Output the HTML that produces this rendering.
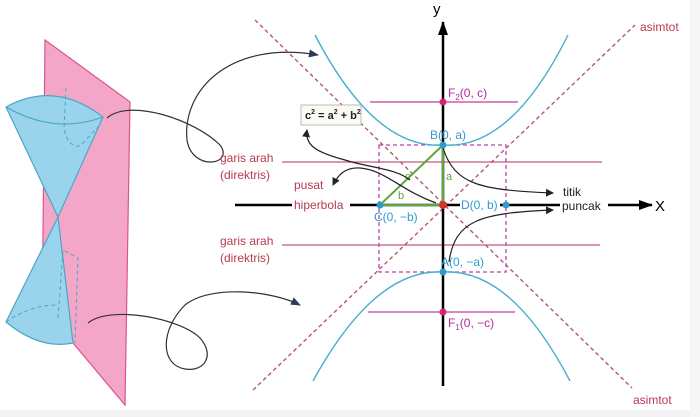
<!DOCTYPE html>
<html><head><meta charset="utf-8"><style>
html,body{margin:0;padding:0;background:#fff;}
svg{display:block;font-family:"Liberation Sans",sans-serif;}
</style></head><body>
<svg width="700" height="417" viewBox="0 0 700 417" xmlns="http://www.w3.org/2000/svg">
<defs>
<marker id="ah" markerWidth="8" markerHeight="8" refX="7" refY="4" orient="auto" markerUnits="userSpaceOnUse"><path d="M0,0 L8,4 L0,8 Z" fill="#222"/></marker>
<marker id="ahn" markerWidth="10" markerHeight="8" refX="9" refY="4" orient="auto" markerUnits="userSpaceOnUse"><path d="M0,0 L10,4 L0,8 Z" fill="#2b3a5a"/></marker>
<marker id="ax" markerWidth="14" markerHeight="10" refX="13" refY="5" orient="auto" markerUnits="userSpaceOnUse"><path d="M0,0 L14,5 L0,10 Z" fill="#000"/></marker>
</defs>
<rect x="0" y="410" width="700" height="7" fill="#f3f3f3"/>
<rect x="690" y="0" width="10" height="417" fill="#f6f6f6"/>

<polygon points="45,40 130,102 125,405 73,343 42,330" fill="#f4a6c8" stroke="#d9558f" stroke-width="1.2"/>
<path d="M6,107 Q55,80 103,117 L58,217 Z" fill="#9ad4ec" stroke="#4aa6c8" stroke-width="1.2"/>
<path d="M6,107 Q55,135 103,117" fill="none" stroke="#4aa6c8" stroke-width="1.2"/>
<path d="M66,88 L64,128 Q68,148 80,146 L100,125" fill="none" stroke="#4aa6c8" stroke-width="1" stroke-dasharray="4,3"/>
<path d="M58,217 L6,322 Q40,350 73,343 Z" fill="#9ad4ec" stroke="#4aa6c8" stroke-width="1.2"/>
<path d="M6,322 Q30,305 58,305" fill="none" stroke="#4aa6c8" stroke-width="1" stroke-dasharray="4,3"/>
<path d="M58,318 L63,250 L78,258 L75,343" fill="none" stroke="#4aa6c8" stroke-width="1" stroke-dasharray="4,3"/>

<path d="M107,118 C130,98 195,120 220,145 C235,165 192,172 187,140 C182,90 230,40 318,55" fill="none" stroke="#333" stroke-width="1.2" marker-end="url(#ahn)"/>
<path d="M88,323 C110,305 180,318 200,338 C215,355 205,372 185,369 C160,365 160,330 185,305 C210,285 270,290 300,305" fill="none" stroke="#333" stroke-width="1.2" marker-end="url(#ahn)"/>

<line x1="282" y1="162" x2="602" y2="162" stroke="#c25a7a" stroke-width="1.3"/>
<line x1="282" y1="245" x2="600" y2="245" stroke="#c25a7a" stroke-width="1.3"/>
<line x1="370" y1="102" x2="518" y2="102" stroke="#c23c9a" stroke-width="1.3"/>
<line x1="368" y1="312" x2="515" y2="312" stroke="#c23c9a" stroke-width="1.3"/>

<line x1="255" y1="20" x2="632" y2="388" stroke="#b5586e" stroke-width="1.4" stroke-dasharray="4,3"/>
<line x1="253" y1="390" x2="635" y2="25" stroke="#b5586e" stroke-width="1.4" stroke-dasharray="4,3"/>

<rect x="379" y="145" width="127" height="127" fill="none" stroke="#b545a8" stroke-width="1.3" stroke-dasharray="4,3"/>

<path d="M315,35 Q375,150 443,145 Q511,150 568,35" fill="none" stroke="#48aecf" stroke-width="1.4"/>
<path d="M313,381 Q375,268 443,272 Q511,268 570,381" fill="none" stroke="#48aecf" stroke-width="1.4"/>

<line x1="443" y1="386" x2="443" y2="22" stroke="#000" stroke-width="2.5" marker-end="url(#ax)"/>
<line x1="235" y1="205" x2="560" y2="205" stroke="#000" stroke-width="2.5"/>
<line x1="608" y1="205" x2="652" y2="205" stroke="#000" stroke-width="2.5" marker-end="url(#ax)"/>
<text x="433" y="14" font-size="15">y</text>
<text x="655" y="211" font-size="15">X</text>

<polygon points="380,205 443,205 443,145" fill="none" stroke="#5aa83a" stroke-width="2"/>
<text x="398" y="199" font-size="11" fill="#5aa83a">b</text>
<text x="446" y="180" font-size="11" fill="#5aa83a">a</text>
<text x="405" y="180" font-size="11" fill="#5aa83a">c</text>

<path d="M443,148 C455,185 480,190 553,193" fill="none" stroke="#222" stroke-width="1.2" marker-end="url(#ah)"/>
<path d="M449,262 C455,220 480,213 553,210" fill="none" stroke="#222" stroke-width="1.2" marker-end="url(#ah)"/>
<path d="M436,203 C400,190 385,170 360,168 C345,167 338,175 333,185" fill="none" stroke="#222" stroke-width="1.2" marker-end="url(#ah)"/>
<path d="M410,180 C395,168 370,168 345,160 C315,152 305,145 307,130" fill="none" stroke="#222" stroke-width="1.2" marker-end="url(#ah)"/>

<circle cx="443" cy="102" r="3.5" fill="#d4246f"/>
<circle cx="443" cy="312" r="3.5" fill="#d4246f"/>
<circle cx="443" cy="145" r="3.5" fill="#2b9ccc"/>
<circle cx="443" cy="272" r="3.5" fill="#2b9ccc"/>
<circle cx="380" cy="205" r="3.5" fill="#2b9ccc"/>
<circle cx="506" cy="205" r="3.5" fill="#2b9ccc"/>
<circle cx="443" cy="205" r="4" fill="#d2322a"/>

<rect x="292" y="198" width="58" height="14" fill="#fff"/>
<rect x="460" y="198" width="40" height="14" fill="#fff"/>
<g font-size="12">
<text x="448" y="97" fill="#b5299a">F<tspan font-size="8" dy="3">2</tspan><tspan dy="-3">(0, c)</tspan></text>
<text x="448" y="327" fill="#b5299a">F<tspan font-size="8" dy="3">1</tspan><tspan dy="-3">(0, −c)</tspan></text>
<text x="430" y="139" fill="#2b9ccc">B(0, a)</text>
<text x="441" y="266" fill="#2b9ccc">A(0, −a)</text>
<text x="374" y="221" fill="#2b9ccc">C(0, −b)</text>
<text x="461" y="209" fill="#2b9ccc">D(0, b)</text>
<text x="220" y="162" fill="#b83a52">garis arah</text>
<text x="220" y="179" fill="#b83a52">(direktris)</text>
<text x="220" y="245" fill="#b83a52">garis arah</text>
<text x="220" y="262" fill="#b83a52">(direktris)</text>
<text x="294" y="189" fill="#b83a52">pusat</text>
<text x="294" y="209" fill="#b83a52">hiperbola</text>
<text x="563" y="196" fill="#222">titik</text>
<text x="562" y="210" fill="#222">puncak</text>
<text x="640" y="31" fill="#b83a52">asimtot</text>
<text x="633" y="404" fill="#b83a52">asimtot</text>
</g>
<rect x="301" y="105" width="60" height="20" fill="#fbfbf6" stroke="#bbb" stroke-width="1"/>
<text x="305" y="119" font-size="11" font-weight="bold" fill="#222">c<tspan font-size="7" dy="-5">2</tspan><tspan dy="5"> = a</tspan><tspan font-size="7" dy="-5">2</tspan><tspan dy="5"> + b</tspan><tspan font-size="7" dy="-5">2</tspan></text>
</svg>
</body></html>
